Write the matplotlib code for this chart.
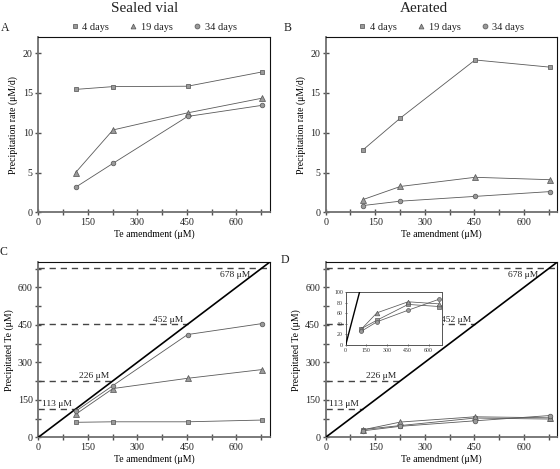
import matplotlib
matplotlib.use("Agg")
import matplotlib.pyplot as plt
from matplotlib.ticker import MultipleLocator

plt.rcParams['font.family'] = ['Liberation Serif', 'DejaVu Serif']
plt.rcParams['mathtext.fontset'] = 'stix'

# ---------------- data ----------------
te_amendment = [113, 226, 452, 678]
series_labels = ["4 days", "19 days", "34 days"]
markers = ["s", "^", "o"]

# Panel A: sealed vial precipitation rate (uM/d)
sealed_rate_4d = [15.45, 15.8, 15.85, 17.65]
sealed_rate_19d = [5.0, 10.35, 12.5, 14.35]
sealed_rate_34d = [3.15, 6.15, 12.05, 13.45]

# Panel B: aerated precipitation rate (uM/d)
aerated_rate_4d = [7.85, 11.85, 19.15, 18.25]
aerated_rate_19d = [1.6, 3.25, 4.4, 4.1]
aerated_rate_34d = [0.85, 1.4, 2.0, 2.6]

# Panel C: sealed vial precipitated Te (uM)
sealed_te_4d = [60, 62, 62, 69]
sealed_te_19d = [92, 195, 236, 271]
sealed_te_34d = [104, 207, 411, 455]

# Panel D: aerated precipitated Te (uM)
aerated_te_4d = [31, 47, 77, 73]
aerated_te_19d = [30, 61, 82, 78]
aerated_te_34d = [26, 44, 66, 87]

ref_levels = [113, 226, 452, 678]
ref_labels = ["113 μM", "226 μM", "452 μM", "678 μM"]

# ---------------- style ----------------
W, H = 560, 469
fig = plt.figure(figsize=(W / 100, H / 100), dpi=100)

LINE_C = "#5a5a5a"
FILL_C = "#9a9a9a"
EDGE_C = "#5a5a5a"
TICK_FS = 7.2
LAB_FS = 7.0


def frac(left, top, right, bottom):
    return [left / W, 1 - bottom / H, (right - left) / W, (bottom - top) / H]


def style_axes(ax, ymajor, yminor, fs=TICK_FS, tl=4, lw_main=1.3):
    for s in ["left", "bottom"]:
        ax.spines[s].set_color("#707070")
        ax.spines[s].set_linewidth(lw_main)
    for s in ["top", "right"]:
        ax.spines[s].set_color("#111111")
        ax.spines[s].set_linewidth(0.8)
    ax.xaxis.set_major_locator(MultipleLocator(150))
    ax.xaxis.set_minor_locator(MultipleLocator(75))
    ax.yaxis.set_major_locator(MultipleLocator(ymajor))
    if yminor:
        ax.yaxis.set_minor_locator(MultipleLocator(yminor))
    ax.tick_params(which="both", direction="inout", length=tl, width=1.0,
                   color="#505050", labelsize=fs, labelcolor="#222222",
                   top=False, right=False, pad=2)
    ax.tick_params(which="minor", length=tl)


def plot_series(ax, ys, ms=3.3, lw=0.6, mew=0.55):
    hs = []
    for y, m, lab in zip(ys, markers, series_labels):
        size = ms + (0.5 if m == "^" else 0)
        h, = ax.plot(te_amendment, y, marker=m, color=LINE_C, lw=lw,
                     markerfacecolor=FILL_C, markeredgecolor=EDGE_C,
                     markersize=size, markeredgewidth=mew, label=lab,
                     clip_on=False, zorder=4)
        hs.append(h)
    return hs


# ---------- Panel A ----------
axA = fig.add_axes(frac(38.3, 37.3, 269.5, 212.3))
hs = plot_series(axA, [sealed_rate_4d, sealed_rate_19d, sealed_rate_34d])
axA.set_xlim(0, 700)
axA.set_ylim(0, 22)
style_axes(axA, 5, None)
axA.set_xlabel("Te amendment (μM)", fontsize=LAB_FS, labelpad=2)
axA.set_ylabel("Precipitation rate (μM/d)", fontsize=LAB_FS, labelpad=3)

# ---------- Panel B ----------
axB = fig.add_axes(frac(325.7, 37.3, 557.0, 212.3))
plot_series(axB, [aerated_rate_4d, aerated_rate_19d, aerated_rate_34d])
axB.set_xlim(0, 700)
axB.set_ylim(0, 22)
style_axes(axB, 5, None)
axB.set_xlabel("Te amendment (μM)", fontsize=LAB_FS, labelpad=2)
axB.set_ylabel("Precipitation rate (μM/d)", fontsize=LAB_FS, labelpad=3)

for ax in (axA, axB):
    leg_handles = []
    for m in markers:
        h, = ax.plot([], [], ls="none", marker=m, markerfacecolor=FILL_C,
                     markeredgecolor=EDGE_C, markersize=3.5, markeredgewidth=0.55)
        leg_handles.append(h)
    ax.legend(leg_handles, series_labels, loc="lower center",
              bbox_to_anchor=(0.5, 1.0), ncol=3, frameon=False,
              fontsize=7.4, handlelength=0.7, handletextpad=0.4,
              columnspacing=2.0, borderaxespad=0.15, labelcolor="#222222")


def ref_lines(ax):
    ax.plot([0, 700], [0, 700], color="black", lw=1.2, zorder=3)
    for lev, lab in zip(ref_levels, ref_labels):
        if lev == 678:
            ax.plot([0, 700], [lev, lev], color="#444444", lw=1.0,
                    ls=(0, (4.5, 3.5)), zorder=2)
            ax.annotate(lab, (642, lev), xytext=(0, -2),
                        textcoords="offset points", ha="right", va="top",
                        fontsize=6.8, color="#222222")
        else:
            ax.plot([0, lev], [lev, lev], color="#444444", lw=1.0,
                    ls=(0, (4.5, 3.5)), zorder=2)
            ax.annotate(lab, (lev, lev), xytext=(-3, 0.5),
                        textcoords="offset points", ha="right", va="bottom",
                        fontsize=6.8, color="#222222")


# ---------- Panel C ----------
axC = fig.add_axes(frac(38.3, 262.3, 269.5, 437.3))
ref_lines(axC)
plot_series(axC, [sealed_te_4d, sealed_te_19d, sealed_te_34d])
axC.set_xlim(0, 700)
axC.set_ylim(0, 700)
style_axes(axC, 150, 75)
axC.set_xlabel("Te amendment (μM)", fontsize=LAB_FS, labelpad=2)
axC.set_ylabel("Precipitated Te (μM)", fontsize=LAB_FS, labelpad=3)

# ---------- Panel D ----------
axD = fig.add_axes(frac(325.7, 262.3, 557.0, 437.3))
ref_lines(axD)
plot_series(axD, [aerated_te_4d, aerated_te_19d, aerated_te_34d])
axD.set_xlim(0, 700)
axD.set_ylim(0, 700)
style_axes(axD, 150, 75)
axD.set_xlabel("Te amendment (μM)", fontsize=LAB_FS, labelpad=2)
axD.set_ylabel("Precipitated Te (μM)", fontsize=LAB_FS, labelpad=3)

# inset
axI = fig.add_axes(frac(345.7, 292.3, 442.3, 345.0))
axI.set_facecolor("white")
axI.set_zorder(5)
axI.plot([0, 700], [0, 700], color="black", lw=1.0, zorder=3)
plot_series(axI, [aerated_te_4d, aerated_te_19d, aerated_te_34d],
            ms=2.8, lw=0.55, mew=0.5)
axI.set_xlim(0, 700)
axI.set_ylim(0, 100)
for s in axI.spines.values():
    s.set_color("#555555")
    s.set_linewidth(0.7)
axI.xaxis.set_major_locator(MultipleLocator(150))
axI.yaxis.set_major_locator(MultipleLocator(20))
axI.tick_params(direction="inout", length=2, width=0.6, labelsize=4.2,
                pad=1, color="#555555", labelcolor="#333333")
for l in axI.lines:
    l.set_clip_on(True)

# titles and panel letters
fig.text(145 / W, 1 - 8 / H, "Sealed vial", ha="center", va="center",
         fontsize=11, color="#222222")
fig.text(424 / W, 1 - 8 / H, "Aerated", ha="center", va="center",
         fontsize=11, color="#222222")
for x, y, t in [(5, 28, "A"), (288, 28, "B"), (3, 252, "C"), (285, 260, "D")]:
    fig.text(x / W, 1 - y / H, t, ha="center", va="center", fontsize=8.5,
             color="#222222")

fig.savefig("out.png", dpi=100)
